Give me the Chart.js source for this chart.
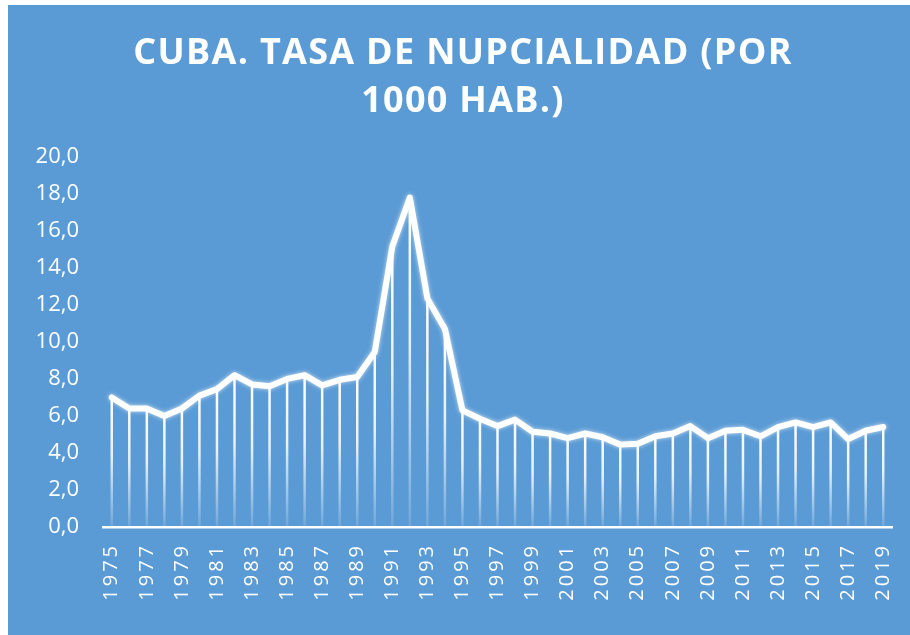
<!DOCTYPE html>
<html>
<head>
<meta charset="utf-8">
<script src="https://cdn.jsdelivr.net/npm/chart.js@4.4.0/dist/chart.umd.min.js"></script>
<style>
    body { margin: 0; background: #ffffff; }
    #marco { position: absolute; left: 8px; top: 5px; width: 902px; height: 630px; background: #5b9bd5; }
</style>
</head>
<body>
<div id="marco"><canvas id="chartNupcialidad" width="902" height="630"></canvas></div>
<script>
const anios = ['1975', '1976', '1977', '1978', '1979', '1980', '1981', '1982', '1983', '1984',
    '1985', '1986', '1987', '1988', '1989', '1990', '1991', '1992', '1993', '1994',
    '1995', '1996', '1997', '1998', '1999', '2000', '2001', '2002', '2003', '2004',
    '2005', '2006', '2007', '2008', '2009', '2010', '2011', '2012', '2013', '2014',
    '2015', '2016', '2017', '2018', '2019'];
const tasa = [7.0, 6.4, 6.4, 6.0, 6.4, 7.1, 7.45, 8.2, 7.7, 7.6,
    8.0, 8.2, 7.65, 7.95, 8.1, 9.45, 15.15, 17.8, 12.35, 10.7,
    6.3, 5.85, 5.45, 5.8, 5.15, 5.05, 4.8, 5.05, 4.85, 4.45,
    4.5, 4.9, 5.05, 5.45, 4.8, 5.2, 5.25, 4.9, 5.4, 5.65,
    5.4, 5.65, 4.75, 5.2, 5.4];
const ejeY = { min: 0, max: 20, paso: 2 };
const titulo = ['CUBA. TASA DE NUPCIALIDAD (POR', '1000 HAB.)'];

// lineas verticales desde cada punto hasta el eje
const lineasCaida = {
    id: 'lineasCaida',
    beforeDatasetsDraw(chart) {
        const { ctx, scales: { x, y } } = chart;
        const base = y.getPixelForValue(0);
        ctx.save();
        ctx.lineWidth = 2.5;
        tasa.forEach((v, i) => {
            const px = x.getPixelForValue(i);
            const py = y.getPixelForValue(v);
            const g = ctx.createLinearGradient(0, py, 0, base);
            g.addColorStop(0, 'rgba(255,255,255,1)');
            g.addColorStop(0.45, 'rgba(255,255,255,0.85)');
            g.addColorStop(1, 'rgba(255,255,255,0.12)');
            ctx.strokeStyle = g;
            ctx.beginPath();
            ctx.moveTo(px, py);
            ctx.lineTo(px, base);
            ctx.stroke();
        });
        ctx.restore();
    },
    beforeDatasetDraw(chart) {
        chart.ctx.save();
        chart.ctx.shadowColor = 'rgba(255,255,255,0.7)';
        chart.ctx.shadowBlur = 4;
    },
    afterDatasetDraw(chart) {
        chart.ctx.restore();
    }
};

// espaciado de letras para titulo y etiquetas del eje X
const espaciado = {
    id: 'espaciado',
    afterLayout(chart) {
        const envolver = (obj, fn, sp, dx) => {
            if (!obj || obj['_esp_' + fn]) return;
            const orig = obj[fn];
            obj[fn] = function (...args) {
                const c = chart.ctx;
                c.save();
                c.letterSpacing = sp;
                c.translate(dx, 0);
                orig.apply(this, args);
                c.restore();
            };
            obj['_esp_' + fn] = true;
        };
        envolver(chart.scales.x, 'drawLabels', '3px', 0);
        envolver(chart.titleBlock, 'draw', '1.3px', 13);
    }
};

new Chart(document.getElementById('chartNupcialidad').getContext('2d'), {
    type: 'line',
    data: {
        labels: anios,
        datasets: [{
            data: tasa,
            borderColor: '#ffffff',
            borderWidth: 6,
            borderJoinStyle: 'round',
            borderCapStyle: 'round',
            pointRadius: 0,
            tension: 0,
            fill: false
        }]
    },
    options: {
        responsive: false,
        animation: false,
        layout: { padding: { left: 0, right: 18, top: 0, bottom: 0 } },
        plugins: {
            legend: { display: false },
            tooltip: { enabled: false },
            title: {
                display: true,
                text: titulo,
                color: '#ffffff',
                font: { family: 'Open Sans', size: 36, weight: 'bold', lineHeight: 1.33 },
                padding: { top: 25, bottom: 31 }
            }
        },
        scales: {
            x: {
                offset: true,
                grid: { display: false, drawTicks: false },
                border: { display: true, color: '#ffffff', width: 2.5 },
                ticks: {
                    autoSkip: false,
                    maxRotation: 90,
                    minRotation: 90,
                    padding: 16,
                    color: '#ffffff',
                    font: { family: 'Open Sans', size: 20 },
                    callback: (v, i) => (i % 2 === 0 ? anios[i] : '')
                },
                afterFit: s => { s.height = 108; s.paddingLeft = 0; s.paddingRight = 0; }
            },
            y: {
                min: ejeY.min,
                max: ejeY.max,
                grid: { display: false, drawTicks: false },
                border: { display: false },
                ticks: {
                    stepSize: ejeY.paso,
                    padding: 24,
                    color: '#ffffff',
                    font: { family: 'Open Sans', size: 22 },
                    callback: v => v.toFixed(1).replace('.', ',')
                },
                afterFit: s => { s.width = 95; }
            }
        }
    },
    plugins: [lineasCaida, espaciado]
});
</script>
</body>
</html>
